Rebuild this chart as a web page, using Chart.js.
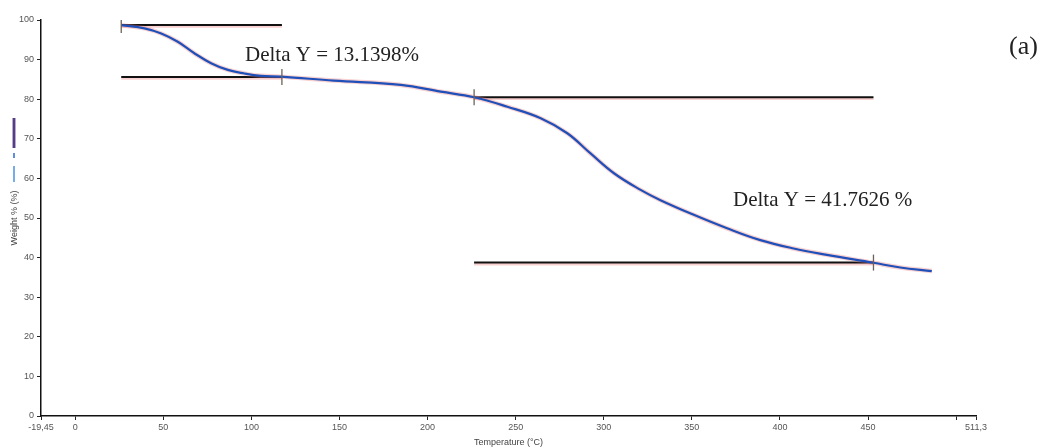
<!DOCTYPE html>
<html>
<head>
<meta charset="utf-8">
<script src="https://cdn.jsdelivr.net/npm/chart.js@4/dist/chart.umd.min.js"></script>
<style>
html,body{margin:0;padding:0;background:#fff;}
#wrap{width:1048px;height:448px;position:relative;}
</style>
</head>
<body>
<div id="wrap"><canvas id="c" width="1048" height="448"></canvas></div>
<script>
// Temperature (°C) and weight (%) of the TGA curve
const temperature = [26.1, 39.3, 48.8, 58.2, 67.6, 77.1, 86.6, 96.0, 105.4, 116.8, 146.8, 184.8, 207.5, 226.4, 245.3, 264.2, 279.3, 292.5, 305.8, 320.9, 332.2, 351.1, 370.0, 388.9, 407.8, 426.7, 453.1, 468.3, 486.2];
const weight = [98.7, 97.9, 96.6, 94.5, 91.6, 89.1, 87.4, 86.5, 85.9, 85.7, 84.7, 83.6, 81.9, 80.5, 78.1, 75.2, 71.4, 66.3, 61.3, 57.1, 54.5, 50.8, 47.4, 44.4, 42.3, 40.7, 38.7, 37.5, 36.6];

// Step analysis: start/end temperature and the two weight levels of each step
const stepStart = [26.1, 226.4];
const stepEnd = [117.3, 453.1];
const stepUpper = [98.75, 80.5];
const stepLower = [85.61, 38.74];
const stepLabels = ["Delta Y = 13.1398%", "Delta Y = 41.7626 %"];

const xTicks = [-19.45, 0, 50, 100, 150, 200, 250, 300, 350, 400, 450, 500, 511.3];
const xTickLabels = ["-19,45", "0", "50", "100", "150", "200", "250", "300", "350", "400", "450", "", "511,3"];
const yTicks = [0, 10, 20, 30, 40, 50, 60, 70, 80, 90, 100];

const curve = temperature.map((t, i) => ({x: t, y: weight[i]}));
const halo = 'rgba(235,120,120,0.35)';

const datasets = [];
for (let i = 0; i < stepStart.length; i++) {
  [stepUpper[i], stepLower[i]].forEach(level => {
    const pts = [{x: stepStart[i], y: level}, {x: stepEnd[i], y: level}];
    datasets.push({data: pts.map(p => ({x: p.x, y: p.y - 0.35})), borderColor: halo, borderWidth: 3, pointRadius: 0, showLine: true, order: 5});
    datasets.push({data: pts, borderColor: '#111', borderWidth: 2, pointRadius: 0, showLine: true, order: 4});
  });
}
datasets.push({data: curve, borderColor: halo, borderWidth: 4.5, pointRadius: 0, showLine: true, tension: 0.4, order: 3});
datasets.push({data: curve, borderColor: '#1f4fb8', borderWidth: 2.2, pointRadius: 0, showLine: true, tension: 0.4, order: 2});
const markers = [];
for (let i = 0; i < stepStart.length; i++) {
  markers.push({x: stepStart[i], y: stepUpper[i]});
  markers.push({x: stepEnd[i], y: stepLower[i]});
}
datasets.push({data: markers, showLine: false, pointStyle: 'line', rotation: 90, pointRadius: 8, borderColor: '#6b6358', borderWidth: 1.3, pointHoverRadius: 8, order: 1});

const textPlugin = {
  id: 'textPlugin',
  afterDraw(chart) {
    const ctx = chart.ctx;
    ctx.save();
    ctx.fillStyle = '#222';
    ctx.font = '21px "Liberation Serif", "Times New Roman", serif';
    ctx.textBaseline = 'middle';
    ctx.textAlign = 'left';
    ctx.fillText(stepLabels[0], 245, 55);
    ctx.fillText(stepLabels[1], 733, 200);
    ctx.font = '26px "Liberation Serif", "Times New Roman", serif';
    ctx.fillText('(a)', 1009, 47);
    ctx.lineCap = 'butt';
    ctx.strokeStyle = 'rgba(220,60,60,0.7)';
    ctx.lineWidth = 3.5;
    ctx.beginPath(); ctx.moveTo(14, 118); ctx.lineTo(14, 148); ctx.stroke();
    ctx.strokeStyle = '#1f4fb8';
    ctx.lineWidth = 2;
    ctx.beginPath(); ctx.moveTo(14, 118); ctx.lineTo(14, 148); ctx.stroke();
    ctx.strokeStyle = '#2a6ad0';
    ctx.lineWidth = 1.5;
    ctx.beginPath(); ctx.moveTo(14, 153); ctx.lineTo(14, 158); ctx.stroke();
    ctx.strokeStyle = '#4a90e0';
    ctx.beginPath(); ctx.moveTo(14, 166); ctx.lineTo(14, 182); ctx.stroke();
    ctx.restore();
  }
};

const tickFont = {family: '"Liberation Sans", Arial, sans-serif', size: 9};
new Chart(document.getElementById('c'), {
  type: 'scatter',
  data: {datasets},
  options: {
    responsive: false,
    animation: false,
    layout: {padding: {left: 0, right: 72, top: 20, bottom: 0}},
    plugins: {legend: {display: false}, tooltip: {enabled: false}},
    scales: {
      x: {
        type: 'linear', min: -19.45, max: 511.3,
        afterBuildTicks(scale) { scale.ticks = xTicks.map(v => ({value: v})); },
        afterFit(scale) { scale.height = 32; },
        ticks: {
          autoSkip: false, maxRotation: 0, padding: 2, color: '#555', font: tickFont,
          callback(v, i) { return xTickLabels[i]; }
        },
        grid: {drawOnChartArea: false, drawTicks: true, tickLength: 4, color: '#222', lineWidth: 1},
        border: {display: true, color: '#111', width: 1.5},
        title: {display: true, text: 'Temperature (°C)', color: '#444', font: {family: '"Liberation Sans", Arial, sans-serif', size: 9}, padding: {top: 0, bottom: 0}}
      },
      y: {
        type: 'linear', min: 0, max: 100,
        afterBuildTicks(scale) { scale.ticks = yTicks.map(v => ({value: v})); },
        afterFit(scale) { scale.width = 41; },
        ticks: {padding: 3, color: '#555', font: tickFont},
        grid: {drawOnChartArea: false, drawTicks: true, tickLength: 4, color: '#222', lineWidth: 1},
        border: {display: true, color: '#111', width: 1.5},
        title: {display: true, text: 'Weight % (%)', color: '#444', font: {family: '"Liberation Sans", Arial, sans-serif', size: 9}, padding: {top: 9, bottom: 0}}
      }
    }
  },
  plugins: [textPlugin]
});
</script>
</body>
</html>
